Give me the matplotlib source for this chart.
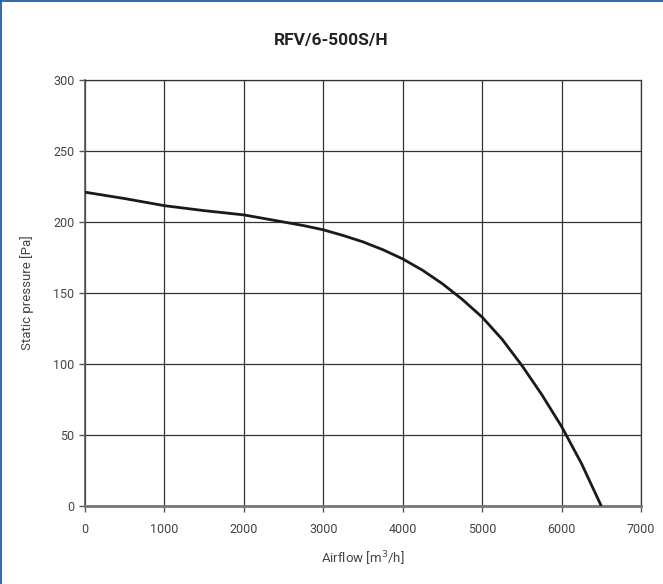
import matplotlib.pyplot as plt
import matplotlib as mpl
from matplotlib import font_manager
from matplotlib.lines import Line2D

# prefer a narrow sans, like the original datasheet font
preferred_fonts = ["Liberation Sans Narrow", "Roboto", "DejaVu Sans"]
available_fonts = {f.name for f in font_manager.fontManager.ttflist}
chosen_font = next((f for f in preferred_fonts if f in available_fonts), "DejaVu Sans")
mpl.rcParams["font.family"] = chosen_font

# fan curve
airflow = [0, 500, 1000, 1500, 2000, 2500, 2750, 3000, 3250, 3500, 3750,
           4000, 4250, 4500, 4750, 5000, 5250, 5500, 5750, 6000, 6250, 6500]
pressure = [221, 216.5, 211.5, 208, 205, 200, 197.5, 194.5, 190.5, 186, 180.5,
            174, 166, 156.5, 145.5, 133, 117.5, 99, 78.5, 56, 30, 0]
x_ticks = [0, 1000, 2000, 3000, 4000, 5000, 6000, 7000]
y_ticks = [0, 50, 100, 150, 200, 250, 300]

fig = plt.figure(figsize=(6.63, 5.84), dpi=100)
# datasheet frame: only top and left edges are visible
fig.add_artist(Line2D([0.0015, 0.0015], [0, 0.9985], transform=fig.transFigure, color="#1f5ba6", lw=1.3))
fig.add_artist(Line2D([0, 1], [0.9985, 0.9985], transform=fig.transFigure, color="#1f5ba6", lw=1.3))

ax = fig.add_axes([85 / 663, 78 / 584, 556 / 663, 426 / 584])

ax.plot(airflow, pressure, color="#1a1a1a", lw=2.0, solid_joinstyle="round",
        solid_capstyle="butt", zorder=3)

ax.set_xlim(0, 7000)
ax.set_ylim(0, 300)
ax.set_xticks(x_ticks)
ax.set_yticks(y_ticks)
ax.grid(True, color="#333333", lw=0.9)

for side in ["top", "right"]:
    ax.spines[side].set_color("#333333")
    ax.spines[side].set_linewidth(0.9)
ax.spines["left"].set_color("#555555")
ax.spines["left"].set_linewidth(1.2)
ax.spines["bottom"].set_color("#777777")
ax.spines["bottom"].set_linewidth(2.0)

ax.tick_params(axis="both", colors="#555555", labelcolor="#444444", labelsize=9, length=4, width=1)
ax.tick_params(axis="x", pad=8)

ax.set_xlabel("Airflow [m$^3$/h]", fontsize=9.5, color="#444444", labelpad=10)
ax.set_ylabel("Static pressure [Pa]", fontsize=9.5, color="#444444", labelpad=14)

fig.text(0.5, 1 - 40 / 584, "RFV/6-500S/H", ha="center", va="center",
         fontsize=12.5, fontweight="bold", color="#222222")

plt.savefig("out.png", dpi=100)
